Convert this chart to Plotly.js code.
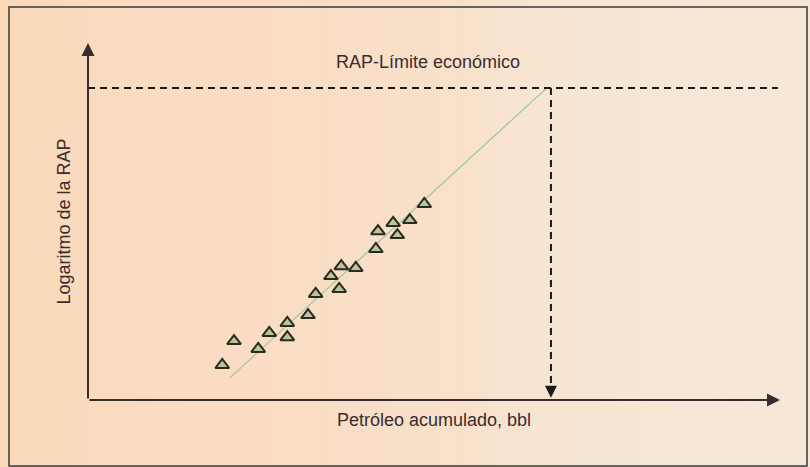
<!DOCTYPE html>
<html>
<head>
<meta charset="utf-8">
<script src="https://cdn.plot.ly/plotly-3.0.1.min.js"></script>
<style>
html,body{margin:0;padding:0;}
#chart{width:810px;height:467px;
  background:linear-gradient(to right,#fad8b8 0%,#f9dbc0 12%,#f9ddc4 35%,#f8e0c9 55%,#f7e5d2 66%,#f6e8d8 100%);}
</style>
</head>
<body>
<div id="chart"></div>
<script>
// Data (arbitrary units: 0–100 on both axes; y = log of RAP)
const petroleoAcumulado = [19.4, 21.1, 24.6, 26.2, 28.8, 28.8, 31.8, 32.9, 35.1, 36.6, 36.3, 38.7, 41.6, 41.9, 44.1, 44.7, 46.5, 48.6];
const logRAP            = [9.8, 16.5, 14.3, 18.8, 21.6, 17.6, 23.8, 29.7, 34.7, 37.5, 31.1, 37.0, 42.3, 47.3, 49.6, 46.2, 50.4, 54.9];
const tendenciaX = [20.5, 66.3];
const tendenciaY = [6.2, 87.4];
const limiteRAP = 87.4;
const petroleoLimite = 66.9;
const tituloLimite = "RAP-Límite económico";
const tituloX = "Petróleo acumulado, bbl";
const tituloY = "Logaritmo de la RAP";

const W = 810, H = 467;
const font = '"Liberation Sans Narrow", "Liberation Sans", Arial, sans-serif';
const ink = '#3a2c2c';

const traces = [
  {x: tendenciaX, y: tendenciaY, mode: 'lines', line: {color: '#9cc79a', width: 1.2}, hoverinfo: 'skip', showlegend: false},
  {x: petroleoAcumulado, y: logRAP, mode: 'markers', showlegend: false,
   marker: {symbol: 'triangle-up', size: 12, color: '#b9c4a0', line: {color: '#2c2a1c', width: 2}}}
];

const layout = {
  width: W, height: H,
  margin: {l: 0, r: 0, t: 0, b: 0},
  paper_bgcolor: 'rgba(0,0,0,0)',
  plot_bgcolor: 'rgba(0,0,0,0)',
  showlegend: false,
  title: {text: tituloLimite, x: 428 / W, xanchor: 'center', y: 1 - 62 / H, yanchor: 'middle',
          font: {family: font, size: 18, color: ink}},
  xaxis: {domain: [88 / W, 780 / W], range: [0, 100], showgrid: false, zeroline: false, showline: false,
          showticklabels: false, ticks: '', fixedrange: true,
          title: {text: tituloX, standoff: 13, font: {family: font, size: 18, color: ink}}},
  yaxis: {domain: [(H - 400) / H, (H - 43) / H], range: [0, 100], showgrid: false, zeroline: false, showline: false,
          showticklabels: false, ticks: '', fixedrange: true,
          title: {text: tituloY, standoff: 11, font: {family: font, size: 18, color: ink}}},
  shapes: [
    {type: 'rect', xref: 'paper', yref: 'paper', x0: 9 / W, x1: 807 / W, y0: 1 / H, y1: 1 - 7 / H, line: {color: '#3a3a3a', width: 1.5}},
    {type: 'line', xref: 'x', yref: 'y', x0: 0, x1: 99.7, y0: limiteRAP, y1: limiteRAP, line: {color: '#1a1a1a', width: 2, dash: '7px,5px'}},
    {type: 'line', xref: 'x', yref: 'y', x0: petroleoLimite, x1: petroleoLimite, y0: limiteRAP, y1: 3, line: {color: '#1a1a1a', width: 2, dash: '7px,5px'}}
  ],
  annotations: [
    {x: 100, y: 0, ax: 0, ay: 0, xref: 'x', yref: 'y', axref: 'x', ayref: 'y', text: '', showarrow: true,
     arrowhead: 2, arrowsize: 1.3, arrowwidth: 2, arrowcolor: ink, standoff: 0},
    {x: 0, y: 100, ax: 0, ay: 0, xref: 'x', yref: 'y', axref: 'x', ayref: 'y', text: '', showarrow: true,
     arrowhead: 2, arrowsize: 1.3, arrowwidth: 2, arrowcolor: ink, standoff: 0},
    {x: petroleoLimite, y: 0.6, ax: 0, ay: -12, xref: 'x', yref: 'y', text: '', showarrow: true,
     arrowhead: 2, arrowsize: 1.2, arrowwidth: 2, arrowcolor: '#1a1a1a', standoff: 0}
  ]
};

Plotly.newPlot('chart', traces, layout, {displayModeBar: false, staticPlot: true});
</script>
</body>
</html>
